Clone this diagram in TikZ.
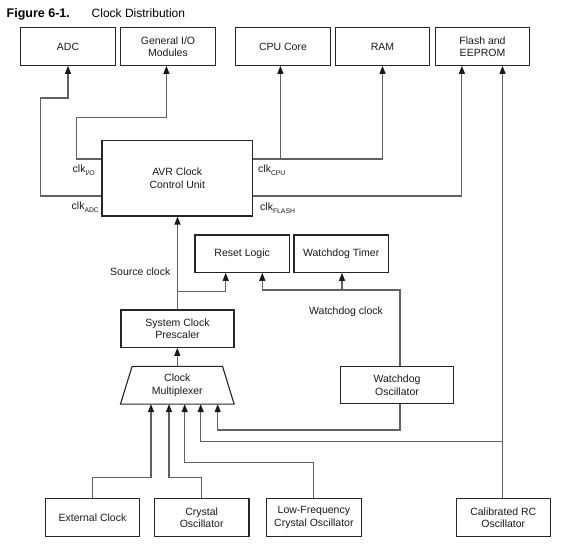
\documentclass[tikz,border=0pt]{standalone}
\usepackage{fontspec}
\setmainfont{Liberation Sans}
\usetikzlibrary{arrows.meta,calc}
\newcommand\bxfont{\fontsize{10.5}{12.5}\selectfont}
\newcommand\clksub[1]{clk\raisebox{-2.5pt}{\fontsize{6.8}{7}\selectfont #1}}
\begin{document}
\begin{tikzpicture}[x=1pt,y=-1pt,
  box/.style={draw=black!85, line width=1.1pt, minimum width=94.5pt, minimum height=37.3pt,
    align=center, font=\bxfont, inner sep=1pt, text=black!90},
  boxline/.style={draw=black!85, line width=1.1pt},
  conn/.style={draw=black!62, line width=1.15pt},
  arr/.style={conn, -{Triangle[width=6pt,length=8pt,color=black!90]}},
  lbl/.style={font=\bxfont, inner sep=0pt, text=black!90}
]
\useasboundingbox (0,0) rectangle (574,556);

% title
\node[anchor=base west, inner sep=0pt, font=\fontsize{12.5}{14}\selectfont\bfseries] (fig) at (6.5,17.7) {Figure 6-1.};
\node[anchor=base west, inner sep=0pt, font=\fontsize{12}{14}\selectfont] (ttl) at (91.5,17.7) {Clock Distribution};

% top row
\node[box] (adc) at (68,46.6) {ADC};
\node[box] (gio) at (168,46.6) {General I/O\\Modules};
\node[box] (cpu) at (283,46.6) {CPU Core};
\node[box] (ram) at (382.5,46.6) {RAM};
\node[box] (flash) at (482.5,46.6) {Flash and\\EEPROM};

% clock control unit
\node[box, minimum width=150.5pt, minimum height=75.3pt] (avr) at (177.25,178.35) {AVR Clock\\Control Unit};

\node[box] (reset) at (242.2,253.7) {Reset Logic};
\node[box] (wdt) at (341.2,253.7) {Watchdog Timer};
\node[box, minimum width=113pt] (pres) at (177.5,328.7) {System Clock\\Prescaler};

\node[align=center, font=\bxfont, text=black!90, minimum width=113.3pt, minimum height=37.3pt, inner sep=0pt] (mux) at (177.3,385.3) {Clock\\Multiplexer};
\draw[boxline] (mux.south west) -- ([xshift=11.6pt]mux.north west) -- ([xshift=-11.6pt]mux.north east) -- (mux.south east) -- cycle;

\node[box, minimum width=112.6pt] (wdo) at (397,385.3) {Watchdog\\Oscillator};

% sources
\node[box, minimum height=38pt] (ext) at (92.5,517.7) {External Clock};
\node[box, minimum height=38pt] (xtal) at (201.7,517.7) {Crystal\\Oscillator};
\node[box, minimum height=38pt] (lfx) at (313.9,517.7) {Low-Frequency\\Crystal Oscillator};
\node[box, minimum height=38pt] (rc) at (503.3,517.7) {Calibrated RC\\Oscillator};

% labels
\node[lbl, anchor=base west] (lio) at (72.5,172.7) {\clksub{I/O}};
\node[lbl, anchor=base west] (ladc) at (71.5,210) {\clksub{ADC}};
\node[lbl, anchor=base west] (lcpu) at (258,172.7) {\clksub{CPU}};
\node[lbl, anchor=base west] (lfl) at (260,211) {\clksub{FLASH}};
\node[lbl, anchor=base west] (lsrc) at (110,275.5) {Source clock};
\node[lbl, anchor=base west] (lwd) at (309,315) {Watchdog clock};

% connectors: clock control unit outputs
\draw[arr] (avr.west |- 0,196) -| (40.5,98) -| (adc.south);
\draw[arr] (avr.west |- 0,159) -| (76.7,117.3) -| ([xshift=-1.6pt]gio.south);
\draw[arr] (avr.east |- 0,159) -| (ram.south);
\draw[arr] ([xshift=-2.6pt]cpu.south |- 0,159) -- ([xshift=-2.6pt]cpu.south);
\draw[arr] (avr.east |- 0,196) -| ([xshift=-20.6pt]flash.south);

% calibrated RC oscillator
\draw[arr] ([xshift=-0.8pt]rc.north) -- ([xshift=-0.8pt]rc.north |- flash.south);
\draw[arr] ([xshift=-0.8pt]rc.north |- 0,441.7) -| (200.7,0 |- mux.south);

% watchdog oscillator
\draw[arr] ([xshift=3pt]wdo.south) |- (217.7,430) -- (217.7,0 |- mux.south);
\draw[arr] ([xshift=3pt]wdo.north) |- (262.3,290) -- (262.3,0 |- reset.south);
\draw[arr] ([xshift=0.8pt]wdt.south |- 0,290) -- ([xshift=0.8pt]wdt.south);

% prescaler
\draw[arr] (pres.north) -- (pres.north |- avr.south);
\draw[arr] (pres.north |- 0,291.3) -| (225.7,0 |- reset.south);
\draw[arr] (mux.north) -- (mux.north |- pres.south);

% sources to multiplexer
\draw[arr] (ext.north) |- (151,477.3) -- (151,0 |- mux.south);
\draw[arr] (xtal.north) |- (169,477.3) -- (169,0 |- mux.south);
\draw[arr] (lfx.north) |- (184.7,462.5) -- (184.7,0 |- mux.south);
\end{tikzpicture}
\end{document}
